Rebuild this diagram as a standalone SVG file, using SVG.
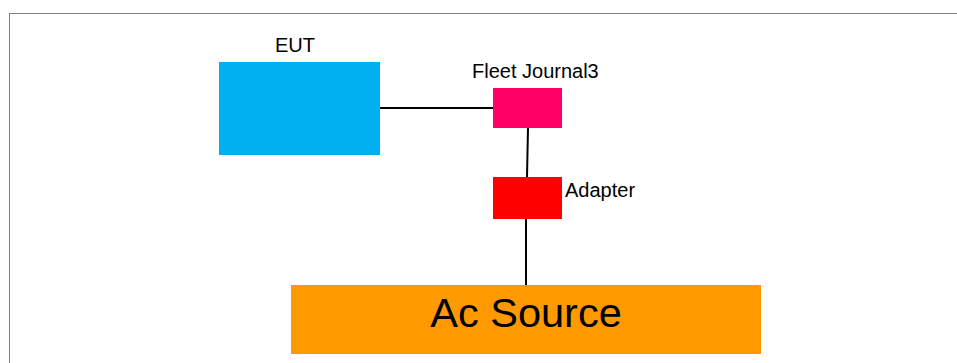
<svg xmlns="http://www.w3.org/2000/svg" width="957" height="363" viewBox="0 0 957 363">
<style>
.lbl{font-family:"Liberation Sans",Arial,sans-serif;fill:#000}
.wire{stroke:#000;stroke-width:2;fill:none}
</style>
<rect width="957" height="363" fill="#fff"/>
<rect x="9.5" y="13.5" width="960" height="360" fill="none" stroke="#000" stroke-width="1" stroke-dasharray="1,1"/>
<g id="connectors">
<line class="wire" x1="380" y1="108" x2="494" y2="108"/>
<line class="wire" x1="528" y1="128" x2="527" y2="177"/>
<line class="wire" x1="526" y1="219" x2="526" y2="285"/>
</g>
<g id="eut">
<rect x="219" y="62" width="161" height="93" fill="#00B0F0"/>
<text class="lbl" x="295" y="52" font-size="20" text-anchor="middle">EUT</text>
</g>
<g id="fleet-journal3">
<rect x="493" y="88" width="69" height="40" fill="#FF0066"/>
<text class="lbl" x="472" y="78" font-size="20">Fleet Journal3</text>
</g>
<g id="adapter">
<rect x="493" y="177" width="69" height="42" fill="#FF0000"/>
<text class="lbl" x="565" y="197" font-size="20">Adapter</text>
</g>
<g id="ac-source">
<rect x="291" y="285" width="470" height="69" fill="#FF9900"/>
<text class="lbl" x="526" y="327" font-size="41.5" text-anchor="middle">Ac Source</text>
</g>
</svg>
